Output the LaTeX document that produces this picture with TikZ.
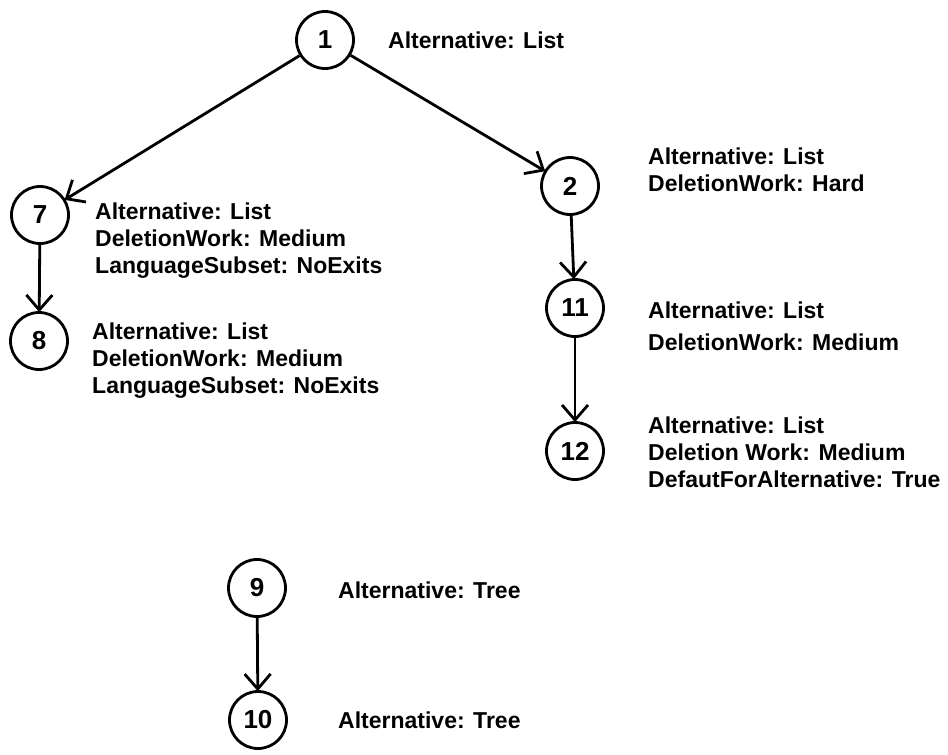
\documentclass[tikz,border=0pt]{standalone}
\usepackage{fontspec}
\setmainfont{Liberation Sans}
\usetikzlibrary{arrows.meta}
\begin{document}
\begin{tikzpicture}[x=1pt,y=-1pt,
  state/.style={circle,draw,line width=2.8pt,minimum size=57pt,inner sep=0pt,
    font=\fontsize{26}{26}\selectfont\bfseries},
  attr/.style={anchor=west,align=left,inner sep=0pt,
    font=\fontsize{23}{27}\selectfont\bfseries},
  edge/.style={line width=2.8pt,-{Straight Barb[length=15pt,width=26pt,line width=2.8pt]},shorten >=-1pt}]
\useasboundingbox (0,0) rectangle (948,755);
% states
\node[state] (n1) at (325,40) {1};
\node[state] (n7) at (40,215) {7};
\node[state] (n8) at (39,341) {8};
\node[state] (n2) at (570,186) {2};
\node[state] (n11) at (575,308) {11};
\node[state] (n12) at (575,451) {12};
\node[state] (n9) at (257,588) {9};
\node[state] (n10) at (258,720) {10};
% transitions
\draw[edge] (n1) -- (n7);
\draw[edge] (n1) -- (n2);
\draw[edge] (n7) -- (n8);
\draw[edge] (n2) -- (n11);
\draw[edge] (n11) -- (n12);
\draw[edge] (n9) -- (n10);
% attribute lists
\node[attr] (a1) at (388,40) {Alternative: List};
\node[attr] (a2) at (648,170) {Alternative: List\\DeletionWork: Hard};
\node[attr] (a7) at (95,241) {Alternative: List\\DeletionWork: Medium\\LanguageSubset: NoExits};
\node[attr] (a8) at (92,361) {Alternative: List\\DeletionWork: Medium\\LanguageSubset: NoExits};
\node[attr] (a11) at (648,326) {Alternative: List\\[5pt]DeletionWork: Medium};
\node[attr] (a12) at (648,452) {Alternative: List\\Deletion Work: Medium\\DefautForAlternative: True};
\node[attr] (a9) at (338,590) {Alternative: Tree};
\node[attr] (a10) at (338,720) {Alternative: Tree};
\end{tikzpicture}
\end{document}
